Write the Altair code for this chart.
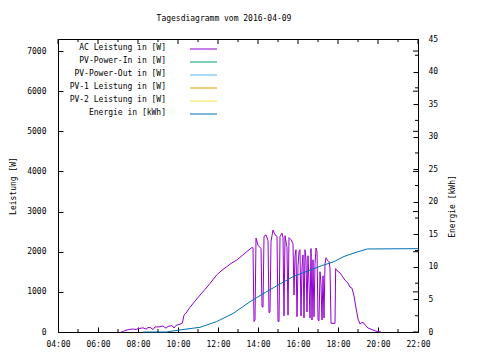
import altair as alt
import pandas as pd

# ---------------- data ----------------
title_text = "Tagesdiagramm vom 2016-04-09"

ac_times = [
    "07:09", "07:16", "07:21", "07:36", "07:45", "07:54", "08:00", "08:06", "08:15", "08:24",
    "08:30", "08:36", "08:45", "08:51", "09:06", "09:15", "09:24", "09:30", "09:42", "09:48",
    "09:54", "10:06", "10:13", "10:18", "10:24", "10:36", "10:51", "11:06", "11:21", "11:36",
    "11:56", "12:09", "12:26", "12:39", "12:56", "13:09", "13:26", "13:41",
    "13:45", "13:48", "13:51", "13:54", "14:00", "14:09", "14:12", "14:15", "14:18", "14:24",
    "14:30", "14:33", "14:36", "14:39", "14:42", "14:45", "14:51", "14:57", "15:00", "15:03",
    "15:06", "15:12", "15:15", "15:18", "15:21", "15:27", "15:30", "15:33", "15:39", "15:45",
    "15:48", "15:51", "15:54", "15:57", "16:00", "16:03", "16:06", "16:09", "16:12", "16:15",
    "16:18", "16:21", "16:24", "16:27", "16:30", "16:33", "16:36", "16:39", "16:42", "16:45",
    "16:48", "16:51", "16:54", "16:57", "17:00", "17:03", "17:06", "17:09", "17:12", "17:15",
    "17:18", "17:21", "17:24", "17:27", "17:30", "17:33", "17:36", "17:39",
    "17:51", "17:53", "17:57", "18:06", "18:12", "18:21", "18:30", "18:36", "18:42", "18:48",
    "18:54", "19:00", "19:06", "19:12", "19:18", "19:24", "19:30", "19:42", "19:54", "20:09",
]
ac_watt = [
    0, 10, 40, 67, 75, 60, 85, 90, 105, 70,
    110, 117, 60, 125, 130, 150, 95, 140, 160, 100,
    165, 195, 220, 420, 470, 615, 770, 920, 1060, 1210,
    1420, 1520, 1625, 1710, 1790, 1880, 2000, 2100,
    2100, 260, 300, 2340, 2160, 2080, 630, 620, 2380, 2420,
    2280, 480, 500, 2250, 2400, 2540, 2420, 2380, 270, 260,
    2380, 2460, 2350, 400, 2400, 2100, 420, 2350, 2300, 2200,
    920, 1900, 2050, 380, 1650, 2000, 2050, 400, 1600, 1920,
    350, 2050, 1800, 500, 1900, 1200, 350, 2080, 300, 1800,
    380, 1700, 2090, 2000, 300, 280, 1500, 1200, 300, 1400,
    350, 1700, 1850, 1800, 1780, 1750, 1600, 215,
    215, 1580, 1530, 1470, 1400, 1290, 1220, 1120, 1090, 900,
    600, 330, 200, 240, 220, 150, 100, 60, 20, 0,
]

energy_times = ["08:15", "09:25", "10:15", "11:06", "11:56", "12:46", "13:36", "14:26",
                "15:06", "15:45", "16:36", "17:12", "17:48", "18:18", "18:58", "19:28", "22:00"]
energy_kwh = [0, 0, 0.38, 0.72, 1.6, 2.87, 4.65, 6.2,
              7.37, 8.5, 9.5, 10.2, 10.8, 11.6, 12.3, 12.75, 12.8]

legend_names = ["AC Leistung in [W]", "PV-Power-In in [W]", "PV-Power-Out in [W]",
                "PV-1 Leistung in [W]", "PV-2 Leistung in [W]", "Energie in [kWh]"]
legend_colors = ["#9400d3", "#009e73", "#56b4e9", "#e69f00", "#f0e442", "#0072b2"]

x_major = [4, 6, 8, 10, 12, 14, 16, 18, 20, 22]
x_minor = [5, 7, 9, 11, 13, 15, 17, 19, 21]
power_ticks = [0, 1000, 2000, 3000, 4000, 5000, 6000, 7000]
energy_ticks = [0, 5, 10, 15, 20, 25, 30, 35, 40, 45]
energy_minor = [2.5, 7.5, 12.5, 17.5, 22.5, 27.5, 32.5, 37.5, 42.5]

P_MAX = 7300
E_MAX = 45
W, H = 360, 293
FONT = "DejaVu Sans Mono"


def to_hours(t):
    h, m = t.split(":")
    return int(h) + int(m) / 60.0


ac_df = pd.DataFrame({"h": [to_hours(t) for t in ac_times], "p": ac_watt})
en_df = pd.DataFrame({"h": [to_hours(t) for t in energy_times], "e": energy_kwh})
leg_df = pd.DataFrame({"name": legend_names, "color": legend_colors})

xscale = alt.Scale(domain=[4, 22], nice=False, zero=False)
pscale = alt.Scale(domain=[0, P_MAX], nice=False)
escale = alt.Scale(domain=[0, E_MAX], nice=False)

x_axis = alt.Axis(
    values=x_major, tickCount=10,
    labelExpr="(datum.value < 10 ? '0' : '') + datum.value + ':00'",
    title=None, grid=False, domain=False, offset=-5, tickSize=5, tickColor="black",
    labelPadding=8, labelFont=FONT, labelFontSize=8, labelColor="black",
    labelOverlap=False, labelFlush=False, labelBound=False, labelSeparation=0)


def xenc():
    return alt.X("h:Q", scale=xscale, axis=x_axis)


ac_line = alt.Chart(ac_df).mark_line(color="#9400d3", strokeWidth=1, interpolate="linear").encode(
    x=xenc(),
    y=alt.Y("p:Q", scale=pscale, axis=alt.Axis(
        orient="left", values=power_ticks, format="d", title="Leistung [W]", grid=False,
        domain=False, offset=-5, tickSize=5, tickColor="black", labelPadding=12,
        labelFont=FONT, labelFontSize=8, labelColor="black", titleFont=FONT,
        titleFontSize=8, titleFontWeight="normal", titleColor="black", titlePadding=9,
        labelOverlap=False, labelFlush=False)),
)

en_line = alt.Chart(en_df).mark_line(color="#0072b2", strokeWidth=1).encode(
    x=xenc(),
    y=alt.Y("e:Q", scale=escale, axis=alt.Axis(
        orient="right", values=energy_ticks, format="d", title="Energie [kWh]", grid=False,
        domain=False, offset=-5, tickSize=5, tickColor="black", labelPadding=10,
        labelFont=FONT, labelFontSize=8, labelColor="black", titleFont=FONT,
        titleFontSize=8, titleFontWeight="normal", titleColor="black", titlePadding=19,
        titleAngle=270, titleY=167, labelOverlap=False, labelFlush=False)),
)

leg_scale = alt.Scale(type="point", domain=legend_names, range=[10, 75], padding=0)
leg_text = alt.Chart(leg_df).mark_text(align="right", baseline="middle", dy=-1.5,
                                       font=FONT, fontSize=8, color="black").encode(
    x=alt.value(108),
    y=alt.Y("name:N", scale=leg_scale, axis=None),
    text="name:N",
)
leg_rule = alt.Chart(leg_df).mark_rule(strokeWidth=1).encode(
    x=alt.value(132), x2=alt.value(159),
    y=alt.Y("name:N", scale=leg_scale, axis=None),
    color=alt.Color("name:N", scale=alt.Scale(domain=legend_names, range=legend_colors), legend=None),
)

top_major = alt.Chart(pd.DataFrame({"h": x_major})).mark_rule(color="black").encode(
    x=xenc(), y=alt.value(0), y2=alt.value(5))
top_minor = alt.Chart(pd.DataFrame({"h": x_minor})).mark_rule(color="black").encode(
    x=xenc(), y=alt.value(0), y2=alt.value(3))
bot_minor = alt.Chart(pd.DataFrame({"h": x_minor})).mark_rule(color="black").encode(
    x=xenc(), y=alt.value(H - 3), y2=alt.value(H))
right_mirror = alt.Chart(pd.DataFrame({"p": power_ticks})).mark_rule(color="black").encode(
    y=alt.Y("p:Q", scale=pscale, axis=None), x=alt.value(W - 5), x2=alt.value(W))
right_minor = alt.Chart(pd.DataFrame({"e": energy_minor})).mark_rule(color="black").encode(
    y=alt.Y("e:Q", scale=escale, axis=None), x=alt.value(W - 3), x2=alt.value(W))

chart = alt.layer(
    ac_line, en_line, leg_text, leg_rule, top_major, top_minor, bot_minor, right_mirror, right_minor
).resolve_scale(y="independent", color="independent").properties(
    width=W, height=H,
    title=alt.Title(title_text, font=FONT, fontSize=8, fontWeight="normal", color="black",
                    anchor="middle", frame="group", offset=12, dx=-14),
    autosize="none",
    padding={"left": 50, "top": 31, "right": 54, "bottom": 18},
    background="white",
).configure_view(stroke="black", strokeWidth=1)

chart.save("out.html", embed_options={"renderer": "svg", "actions": False})
